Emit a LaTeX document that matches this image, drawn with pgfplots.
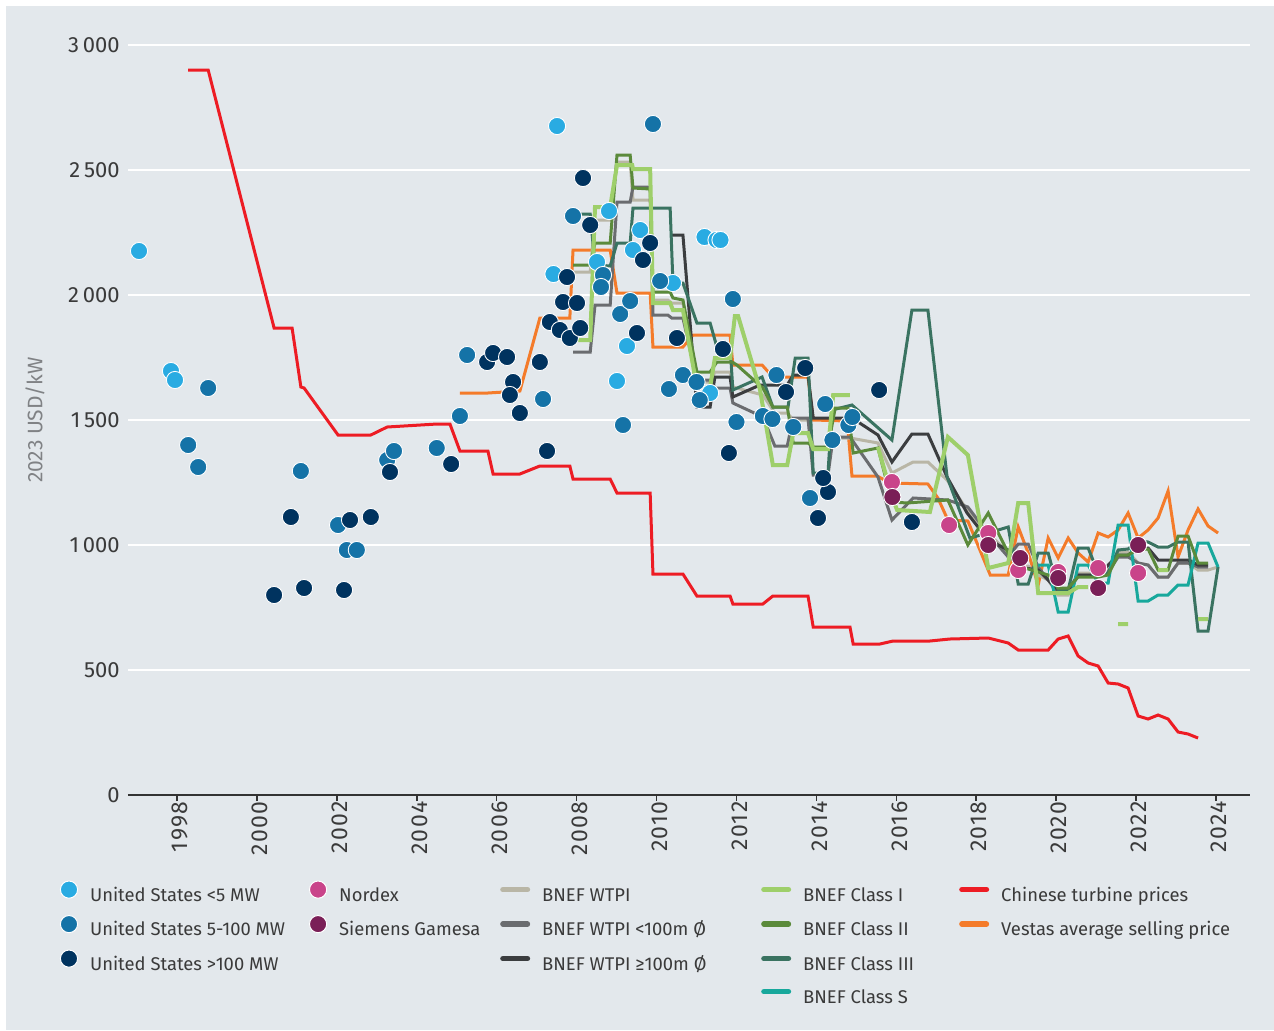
\documentclass[border=0pt]{standalone}
\usepackage{fontspec}
\setmainfont{Fira Sans}
\newfontfamily\xfont[LetterSpace=6]{Fira Sans}
\usepackage{pgfplots}
\pgfplotsset{compat=1.18}
\definecolor{bg}{HTML}{E3E8EC}
\definecolor{axisc}{HTML}{333333}
\definecolor{tickc}{HTML}{3A3A3A}
\definecolor{labc}{HTML}{808285}
\definecolor{usa}{HTML}{29ABE2}
\definecolor{usb}{HTML}{1573A7}
\definecolor{usc}{HTML}{00335F}
\definecolor{nordex}{HTML}{C9448A}
\definecolor{siemens}{HTML}{7A1F57}
\definecolor{wtpi}{HTML}{B9B6A6}
\definecolor{wtpis}{HTML}{6A6C6F}
\definecolor{wtpil}{HTML}{3B3D3F}
\definecolor{clI}{HTML}{9ECF6A}
\definecolor{clII}{HTML}{5B8A3B}
\definecolor{clIII}{HTML}{3A7361}
\definecolor{clS}{HTML}{17A89C}
\definecolor{china}{HTML}{ED1C24}
\definecolor{vestas}{HTML}{F47B2A}
\pgfplotsset{
  legcirc/.style={legend image code/.code={\fill[#1, draw=white, line width=0.5pt] (10.5pt,3.2pt) circle (4.3pt); \path[draw=none, fill=none] (0pt,-1pt) rectangle (15pt,7pt);}},
  legline/.style={legend image code/.code={\draw[#1, line width=2.8pt, line cap=round] (1.4pt,3.2pt) -- (13.6pt,3.2pt); \path[draw=none, fill=none] (0pt,-1pt) rectangle (15pt,7pt);}},
  legempty/.style={legend image code/.code={\path[draw=none, fill=none] (0pt,-1pt) rectangle (15pt,7pt);}},
  dots/.style={only marks, mark=*, mark size=4.3pt, mark options={fill=#1, draw=white, line width=0.45pt}, forget plot},
  ln/.style={#1, line width=1.5pt, mark=none, forget plot},
}
\newcommand\lt[2]{\makebox[#1][l]{#2}}
\begin{document}
\begin{tikzpicture}
\useasboundingbox (-64pt,-117.5pt) rectangle (573pt,397.5pt);
\fill[white] (-64pt,-117.5pt) rectangle (573pt,397.5pt);
\fill[bg] (-61pt,-117.5pt) rectangle (573pt,394.5pt);
\begin{axis}[
  at={(0pt,0pt)}, anchor=south west,
  scale only axis, width=561pt, height=375pt,
  xmin=1996.774, xmax=2024.85, ymin=0, ymax=3000,
  axis x line*=bottom, axis y line*=left,
  x axis line style={draw=axisc, line width=1.25pt},
  y axis line style={draw=none},
  xtick={1998,2000,...,2024}, ytick={0,500,...,3000},
  ytick style={draw=none},
  xtick style={draw=axisc, line width=0.8pt},
  tick align=outside, major tick length=3pt,
  ymajorgrids, grid style={white, line width=1pt},
  /pgf/number format/assume math mode=true,
  xticklabel style={rotate=90, anchor=east, inner sep=0pt, yshift=-1.5pt, font=\xfont\fontsize{11.5}{13}\selectfont, text=tickc, /pgf/number format/1000 sep={}},
  yticklabel style={inner sep=0pt, xshift=-1pt, font=\fontsize{11}{13}\selectfont, text=tickc, /pgf/number format/1000 sep={\,}},
  ylabel={2023 USD/kW},
  every axis y label/.style={at={(axis description cs:-0.0829,0.5)}, rotate=90, anchor=center, font=\fontsize{10.5}{12}\selectfont, text=labc},
  unbounded coords=jump,
  legend columns=5,
  legend cell align=left,
  legend style={draw=none, fill=none, inner sep=0pt, outer sep=0pt,
    at={(axis description cs:-0.0713,-0.114)}, anchor=north west,
    /tikz/column sep=0pt,
    /tikz/every odd column/.append style={column sep=6pt},
    /tikz/every even column/.append style={column sep=0pt},
    /tikz/row sep=5pt,
    nodes={inner sep=0pt, text height=7pt, text depth=2pt, font=\fontsize{9.2}{11}\selectfont, text=tickc}},
]
% ---- US scatter
\addplot[dots=usa] coordinates {(1997.05,2176)(1997.85,1696)(1997.95,1660)(2007.51,2676)(2007.42,2084)(2008.51,2132)(2008.81,2336)(2009.41,2180)(2009.59,2260)(2009.26,1796)(2009.01,1656)(2010.41,2048)(2011.2,2232)(2011.5,2220)(2011.6,2220)(2011.34,1608)};
\addplot[dots=usb] coordinates {(1998.28,1400)(1998.53,1312)(1998.78,1628)(2001.1,1296)(2002.03,1080)(2002.25,980)(2002.5,980)(2003.26,1340)(2003.43,1376)(2004.5,1388)(2005.08,1516)(2005.26,1760)(2007.16,1584)(2007.91,2316)(2008.66,2080)(2008.61,2032)(2009.09,1924)(2009.34,1976)(2009.16,1480)(2009.91,2684)(2010.09,2056)(2010.31,1624)(2010.66,1680)(2011.0,1652)(2011.08,1580)(2011.91,1984)(2012.0,1492)(2012.66,1516)(2012.9,1504)(2013.0,1680)(2013.42,1472)(2013.84,1188)(2014.22,1564)(2014.4,1420)(2014.8,1480)(2014.9,1512)};
\addplot[dots=usc] coordinates {(2000.43,800)(2000.85,1112)(2001.18,828)(2002.18,820)(2002.33,1100)(2002.85,1112)(2003.33,1292)(2004.86,1324)(2005.76,1732)(2005.91,1768)(2006.26,1752)(2006.41,1652)(2006.33,1600)(2006.58,1528)(2007.08,1732)(2007.26,1376)(2007.33,1892)(2007.58,1860)(2007.76,2072)(2007.66,1972)(2008.01,1968)(2007.83,1828)(2008.09,1868)(2008.16,2468)(2008.34,2280)(2009.84,2208)(2009.66,2140)(2009.51,1848)(2010.51,1828)(2011.66,1784)(2011.81,1368)(2013.24,1612)(2013.72,1708)(2014.04,1108)(2014.29,1212)(2014.17,1268)(2015.57,1620)(2016.39,1092)};
% ---- Vestas
\addplot[ln=vestas] coordinates {(2005.08,1608)(2005.78,1608)(2006.58,1616)(2007.08,1908)(2007.83,1908)(2007.91,2180)(2008.84,2180)(2009.01,2008)(2009.84,2008)(2009.91,1792)(2010.66,1792)(2010.91,1840)(2011.84,1840)(2011.91,1720)(2012.64,1720)(2012.91,1672)(2013.79,1672)(2013.92,1500)(2014.77,1496)(2014.89,1276)(2015.52,1276)(2015.84,1248)(2016.79,1244)(2017.04,1188)(2017.29,1100)(2017.79,1096)(2018.35,880)(2018.8,880)(2019.05,1072)(2019.3,968)(2019.55,840)(2019.8,1028)(2020.05,948)(2020.3,1028)(2020.55,968)(2020.8,932)(2021.05,1048)(2021.3,1032)(2021.55,1060)(2021.8,1128)(2022.05,1028)(2022.3,1060)(2022.55,1108)(2022.8,1216)(2023.05,952)(2023.3,1060)(2023.55,1144)(2023.8,1076)(2024.05,1048)};
% ---- Chinese turbine prices
\addplot[ln=china] coordinates {(1998.28,2900)(1998.78,2900)(2000.43,1868)(2000.88,1868)(2001.1,1632)(2001.18,1628)(2002.03,1440)(2002.85,1440)(2003.26,1472)(2004.51,1484)(2004.83,1484)(2005.08,1376)(2005.78,1376)(2005.91,1284)(2006.58,1284)(2007.08,1316)(2007.83,1316)(2007.91,1264)(2008.84,1264)(2009.01,1208)(2009.84,1208)(2009.91,884)(2010.66,884)(2011.01,796)(2011.84,796)(2011.91,764)(2012.66,764)(2012.91,796)(2013.79,796)(2013.92,672)(2014.84,672)(2014.92,604)(2015.59,604)(2015.92,616)(2016.84,616)(2017.34,624)(2018.3,628)(2018.8,608)(2019.05,580)(2019.8,580)(2020.05,624)(2020.3,636)(2020.55,556)(2020.8,528)(2021.05,516)(2021.3,448)(2021.55,444)(2021.8,428)(2022.05,316)(2022.3,304)(2022.55,320)(2022.8,304)(2023.05,252)(2023.3,244)(2023.55,228)};
% ---- BNEF WTPI
\addplot[ln=wtpi] coordinates {(2007.91,2092)(2008.34,2092)(2008.46,2300)(2008.84,2300)(2009.01,2532)(2009.34,2532)(2009.41,2380)(2009.84,2380)(2009.91,1980)(2010.28,1980)(2010.38,1968)(2010.66,1968)(2011.01,1652)(2011.34,1652)(2011.46,1692)(2011.84,1692)(2011.91,1632)(2012.66,1600)(2012.96,1528)(2013.27,1528)(2013.42,1500)(2013.79,1500)(2013.92,1392)(2014.29,1392)(2014.42,1428)(2014.84,1428)(2015.54,1408)(2015.89,1288)(2016.42,1332)(2016.79,1332)(2017.27,1260)(2017.77,1140)(2018.3,1048)(2018.8,968)(2019.05,916)(2019.3,916)(2019.55,880)(2019.8,860)(2020.05,800)(2020.3,800)(2020.55,888)(2021.05,888)(2021.3,900)(2021.55,972)(2021.8,972)(2022.05,928)(2022.3,920)(2022.55,872)(2022.8,872)(2023.05,928)(2023.3,928)(2023.55,900)(2023.8,900)(2024.05,912)};
% ---- BNEF WTPI <100m
\addplot[ln=wtpis] coordinates {(2007.91,1772)(2008.34,1772)(2008.46,1960)(2008.84,1960)(2009.01,2372)(2009.34,2372)(2009.41,2432)(2009.84,2432)(2009.91,1920)(2010.28,1920)(2010.38,1908)(2010.66,1908)(2011.01,1660)(2011.34,1660)(2011.46,1628)(2011.84,1628)(2011.91,1568)(2012.66,1512)(2012.96,1396)(2013.27,1396)(2013.42,1508)(2013.79,1508)(2013.92,1280)(2014.29,1280)(2014.42,1432)(2014.84,1432)(2015.54,1272)(2015.89,1100)(2016.42,1188)(2017.29,1180)(2017.79,1152)(2018.3,1044)(2018.8,952)(2019.05,1004)(2019.3,1004)(2019.55,912)(2020.05,808)(2020.3,808)(2020.55,880)(2021.05,880)(2021.3,892)(2021.55,952)(2021.8,952)(2022.05,928)(2022.3,920)(2022.55,872)(2022.8,872)(2023.05,928)(2023.3,928)(2023.55,912)(2023.8,912)};
% ---- BNEF WTPI >=100m
\addplot[ln=wtpil] coordinates {(2010.34,2240)(2010.66,2240)(2011.01,1552)(2011.34,1552)(2011.46,1672)(2011.84,1672)(2011.91,1592)(2012.59,1640)(2013.27,1640)(2013.42,1680)(2013.79,1680)(2013.92,1508)(2014.89,1508)(2015.54,1440)(2015.89,1332)(2016.39,1444)(2016.79,1444)(2017.27,1272)(2017.77,1128)(2018.3,1020)(2018.8,980)(2019.05,912)(2019.55,900)(2020.05,820)(2020.3,820)(2020.55,880)(2021.05,880)(2021.55,960)(2021.8,960)(2022.05,988)(2022.3,988)(2022.55,940)(2023.3,940)(2023.55,920)(2023.8,920)};
% ---- BNEF Class III
\addplot[ln=clIII] coordinates {(2007.91,2324)(2008.34,2324)(2008.46,2120)(2008.84,2116)(2009.01,2208)(2009.34,2208)(2009.41,2348)(2010.34,2348)(2010.41,2048)(2010.66,2048)(2011.01,1888)(2011.34,1888)(2011.51,1792)(2011.84,1792)(2011.91,1620)(2012.64,1672)(2012.91,1552)(2013.29,1552)(2013.47,1748)(2013.79,1748)(2013.92,1288)(2014.29,1288)(2014.39,1540)(2014.89,1560)(2015.89,1420)(2016.39,1940)(2016.79,1940)(2017.27,1272)(2017.84,1028)(2018.3,1048)(2018.8,1072)(2019.05,844)(2019.3,844)(2019.55,968)(2019.8,968)(2020.05,820)(2020.3,820)(2020.55,988)(2020.8,988)(2021.05,888)(2021.3,888)(2021.55,980)(2021.8,984)(2022.05,1016)(2022.3,1012)(2022.55,992)(2022.8,992)(2023.05,1012)(2023.3,1012)(2023.55,656)(2023.8,656)(2024.05,912)};
% ---- BNEF Class S
\addplot[ln=clS] coordinates {(2019.55,920)(2019.8,920)(2020.05,732)(2020.3,732)(2020.55,920)(2020.8,920)(2021.05,848)(2021.3,848)(2021.55,1080)(2021.8,1080)(2022.05,776)(2022.3,776)(2022.55,800)(2022.8,800)(2023.05,840)(2023.3,840)(2023.55,1008)(2023.8,1008)(2024.05,912)};
% ---- BNEF Class II
\addplot[ln=clII] coordinates {(2007.91,2120)(2008.34,2120)(2008.46,2208)(2008.84,2208)(2009.01,2560)(2009.34,2560)(2009.41,2428)(2009.84,2424)(2009.91,2012)(2010.34,2012)(2010.41,1988)(2010.66,1980)(2011.01,1692)(2011.34,1692)(2011.51,1732)(2011.89,1732)(2012.01,1720)(2012.66,1628)(2012.91,1552)(2013.27,1552)(2013.42,1408)(2013.79,1408)(2013.92,1392)(2014.29,1392)(2014.47,1548)(2014.79,1548)(2014.92,1368)(2015.54,1388)(2015.89,1172)(2016.27,1168)(2017.29,1180)(2017.79,1000)(2018.3,1128)(2018.8,968)(2019.05,908)(2019.3,904)(2019.8,880)(2020.05,828)(2020.3,828)(2020.55,872)(2021.05,872)(2021.3,880)(2021.55,960)(2021.8,960)(2022.05,984)(2022.3,984)(2022.55,900)(2022.8,900)(2023.05,1036)(2023.3,1036)(2023.55,928)(2023.8,928)};
% ---- BNEF Class I
\addplot[ln=clI, line width=2pt] coordinates {(2007.91,1820)(2008.34,1820)(2008.46,2352)(2008.84,2352)(2009.01,2520)(2009.39,2520)(2009.41,2504)(2009.84,2504)(2009.91,1968)(2010.34,1968)(2010.41,1940)(2010.66,1940)(2011.01,1632)(2011.34,1632)(2011.46,1748)(2011.84,1748)(2011.96,1916)(2012.04,1916)(2012.59,1620)(2012.91,1320)(2013.27,1320)(2013.42,1448)(2013.79,1448)(2013.92,1384)(2014.29,1384)(2014.42,1600)(2014.84,1600)(2015.2,nan)(2015.54,1392)(2015.92,1180)(2016.02,1140)(2016.84,1132)(2017.29,1432)(2017.79,1360)(2018.3,908)(2018.8,928)(2019.05,1168)(2019.3,1168)(2019.55,808)(2020.3,808)(2020.55,832)(2020.8,832)(2021.2,nan)(2021.55,684)(2021.8,684)(2022.2,nan)(2022.55,900)(2022.8,900)(2023.2,nan)(2023.55,704)(2023.8,704)};
% ---- Nordex and Siemens Gamesa
\addplot[dots=nordex] coordinates {(2015.89,1252)(2017.32,1080)(2018.3,1048)(2019.05,900)(2020.05,892)(2021.05,908)(2022.05,888)};
\addplot[dots=siemens] coordinates {(2015.9,1192)(2018.3,1000)(2019.1,948)(2020.05,868)(2021.05,828)(2022.05,1000)};
% ---- legend (row-major, 5 columns)
\addlegendimage{legcirc=usa}\addlegendentry{\lt{103.5pt}{United States <5 MW}}
\addlegendimage{legcirc=nordex}\addlegendentry{\lt{80.5pt}{Nordex}}
\addlegendimage{legline=wtpi}\addlegendentry{\lt{109.5pt}{BNEF WTPI}}
\addlegendimage{legline=clI}\addlegendentry{\lt{78pt}{BNEF Class I}}
\addlegendimage{legline=china}\addlegendentry{\lt{130pt}{Chinese turbine prices}}
\addlegendimage{legcirc=usb}\addlegendentry{\lt{103.5pt}{United States 5-100 MW}}
\addlegendimage{legcirc=siemens}\addlegendentry{\lt{80.5pt}{Siemens Gamesa}}
\addlegendimage{legline=wtpis}\addlegendentry{\lt{109.5pt}{BNEF WTPI <100m Ø}}
\addlegendimage{legline=clII}\addlegendentry{\lt{78pt}{BNEF Class II}}
\addlegendimage{legline=vestas}\addlegendentry{\lt{130pt}{Vestas average selling price}}
\addlegendimage{legcirc=usc}\addlegendentry{\lt{103.5pt}{United States >100 MW}}
\addlegendimage{legempty}\addlegendentry{}
\addlegendimage{legline=wtpil}\addlegendentry{\lt{109.5pt}{BNEF WTPI ≥100m Ø}}
\addlegendimage{legline=clIII}\addlegendentry{\lt{78pt}{BNEF Class III}}
\addlegendimage{legempty}\addlegendentry{}
\addlegendimage{legempty}\addlegendentry{}
\addlegendimage{legempty}\addlegendentry{}
\addlegendimage{legempty}\addlegendentry{}
\addlegendimage{legline=clS}\addlegendentry{\lt{78pt}{BNEF Class S}}
\addlegendimage{legempty}\addlegendentry{}
\end{axis}
\end{tikzpicture}
\end{document}
